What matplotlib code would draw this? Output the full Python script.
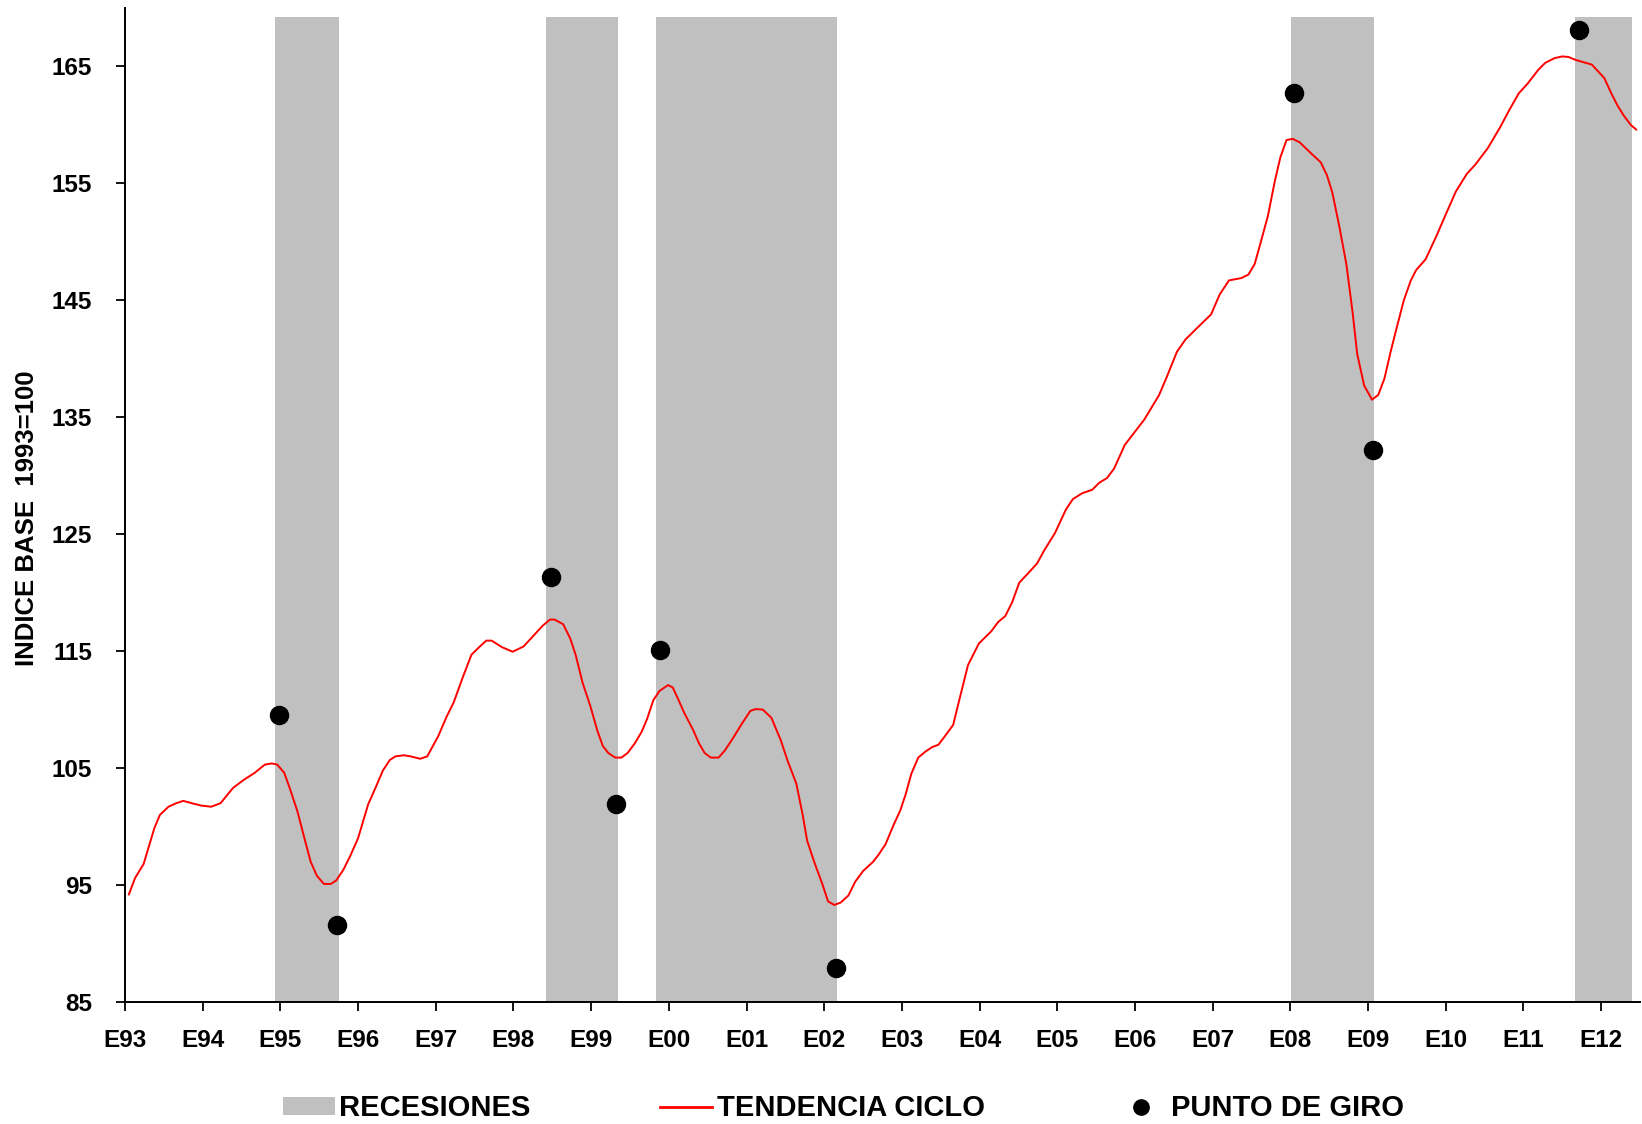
import numpy as np
import matplotlib
matplotlib.use("Agg")
import matplotlib.pyplot as plt
import matplotlib.patches as mpatches
from matplotlib.lines import Line2D

plt.rcParams['font.family'] = ['Liberation Sans', 'DejaVu Sans']
plt.rcParams['font.weight'] = 'bold'

# Tendencia ciclo (fractional year, index value)
trend_x = [1993.05, 1993.13, 1993.24, 1993.38, 1993.45, 1993.56, 1993.66, 1993.75, 1993.86, 1993.98,
           1994.11, 1994.23, 1994.39, 1994.53, 1994.67, 1994.80, 1994.89, 1994.96, 1995.05, 1995.12,
           1995.22, 1995.31, 1995.39, 1995.47, 1995.56, 1995.65, 1995.72, 1995.81, 1995.90, 1996.00,
           1996.13, 1996.23, 1996.32, 1996.41, 1996.48, 1996.59, 1996.68, 1996.80, 1996.89, 1997.03,
           1997.14, 1997.23, 1997.35, 1997.46, 1997.56, 1997.65, 1997.72, 1997.85, 1997.99, 1998.13,
           1998.22, 1998.38, 1998.47, 1998.53, 1998.64, 1998.73, 1998.80, 1998.89, 1998.99, 1999.08,
           1999.15, 1999.22, 1999.31, 1999.39, 1999.47, 1999.56, 1999.65, 1999.72, 1999.80, 1999.88,
           1999.99, 2000.05, 2000.12, 2000.20, 2000.31, 2000.39, 2000.46, 2000.54, 2000.64, 2000.72,
           2000.82, 2000.94, 2001.05, 2001.12, 2001.21, 2001.32, 2001.44, 2001.53, 2001.64, 2001.72,
           2001.78, 2001.87, 2001.97, 2002.05, 2002.13, 2002.21, 2002.31, 2002.40, 2002.50, 2002.63,
           2002.70, 2002.79, 2002.89, 2002.98, 2003.05, 2003.12, 2003.21, 2003.30, 2003.39, 2003.47,
           2003.55, 2003.66, 2003.73, 2003.85, 2003.99, 2004.15, 2004.24, 2004.33, 2004.42, 2004.51,
           2004.63, 2004.74, 2004.83, 2004.97, 2005.11, 2005.20, 2005.32, 2005.45, 2005.54, 2005.64,
           2005.73, 2005.87, 2006.12, 2006.31, 2006.40, 2006.54, 2006.65, 2006.81, 2006.98, 2007.09,
           2007.21, 2007.37, 2007.46, 2007.54, 2007.62, 2007.71, 2007.80, 2007.87, 2007.95, 2008.03,
           2008.12, 2008.26, 2008.39, 2008.47, 2008.54, 2008.63, 2008.72, 2008.80, 2008.86, 2008.95,
           2009.05, 2009.13, 2009.21, 2009.29, 2009.37, 2009.46, 2009.55, 2009.62, 2009.74, 2009.88,
           2010.01, 2010.13, 2010.27, 2010.38, 2010.54, 2010.70, 2010.82, 2010.94, 2011.05, 2011.19,
           2011.28, 2011.40, 2011.50, 2011.58, 2011.67, 2011.88, 2012.04, 2012.13, 2012.21, 2012.29,
           2012.38, 2012.45]
trend_y = [94.2, 95.6, 96.8, 99.9, 101.0, 101.7, 102.0, 102.2, 102.0, 101.8,
           101.7, 102.0, 103.3, 104.0, 104.6, 105.3, 105.4, 105.3, 104.6, 103.3,
           101.3, 99.0, 97.0, 95.8, 95.1, 95.1, 95.4, 96.3, 97.5, 99.0,
           101.9, 103.4, 104.8, 105.7, 106.0, 106.1, 106.0, 105.8, 106.0, 107.7,
           109.4, 110.6, 112.8, 114.7, 115.35, 115.9, 115.9, 115.35, 114.95, 115.4,
           116.05, 117.2, 117.7, 117.7, 117.3, 116.1, 114.7, 112.3, 110.3, 108.2,
           106.9, 106.3, 105.9, 105.9, 106.3, 107.1, 108.1, 109.2, 110.8, 111.6,
           112.1, 111.9, 110.9, 109.7, 108.3, 107.1, 106.3, 105.9, 105.9, 106.5,
           107.5, 108.8, 109.9, 110.05, 110.0, 109.3, 107.4, 105.6, 103.7, 101.1,
           98.8, 97.0, 95.2, 93.6, 93.3, 93.5, 94.1, 95.3, 96.2, 97.0,
           97.6, 98.5, 100.1, 101.4, 102.8, 104.5, 105.9, 106.4, 106.8, 107.0,
           107.7, 108.7, 110.6, 113.8, 115.65, 116.7, 117.5, 118.0, 119.2, 120.85,
           121.7, 122.5, 123.6, 125.1, 127.1, 128.0, 128.5, 128.8, 129.4, 129.8,
           130.6, 132.65, 134.8, 136.9, 138.3, 140.6, 141.65, 142.7, 143.8, 145.5,
           146.7, 146.9, 147.2, 148.1, 150.0, 152.2, 155.2, 157.2, 158.7, 158.8,
           158.5, 157.6, 156.8, 155.7, 154.2, 151.3, 148.1, 144.0, 140.4, 137.7,
           136.5, 136.9, 138.3, 140.6, 142.7, 145.0, 146.7, 147.6, 148.5, 150.5,
           152.5, 154.3, 155.8, 156.6, 158.0, 159.8, 161.3, 162.7, 163.5, 164.7,
           165.3, 165.7, 165.85, 165.8, 165.55, 165.15, 164.0, 162.7, 161.65, 160.8,
           160.0, 159.6]

# Puntos de giro
giro_x = [1994.98, 1995.73, 1998.48, 1999.32, 1999.89, 2002.15, 2008.04, 2009.06, 2011.72]
giro_y = [109.5, 91.6, 121.3, 101.9, 115.1, 87.9, 162.7, 132.2, 168.1]

# Recesiones (start, end)
rec_start = [1994.93, 1998.425, 1999.834, 2008.008, 2011.663]
rec_end = [1995.755, 1999.343, 2002.164, 2009.081, 2012.40]
rec_top = 169.2

years = list(range(1993, 2013))
year_labels = ['E%02d' % (y % 100) for y in years]

fig = plt.figure(figsize=(16.42, 11.24), dpi=100)
ax = fig.add_axes([0.0761, 0.1085, 0.9227, 0.8845])

ymin, ymax = 85, 170
for s, e in zip(rec_start, rec_end):
    ax.axvspan(s, e, ymin=0, ymax=(rec_top - ymin) / (ymax - ymin),
               color='#c0c0c0', lw=0, zorder=1)

ax.plot(trend_x, trend_y, color='red', lw=1.4, zorder=3)
ax.plot(giro_x, giro_y, 'o', color='black', markersize=13, zorder=4)

ax.set_xlim(1993, 2012.5)
ax.set_ylim(ymin, ymax)
ax.set_yticks(np.arange(85, 166, 10))
ax.set_xticks(years)
ax.set_xticklabels(year_labels)

for sp in ['top', 'right']:
    ax.spines[sp].set_visible(False)
for sp in ['left', 'bottom']:
    ax.spines[sp].set_linewidth(1.4)
ax.tick_params(axis='y', direction='out', length=6.7, width=1.3, pad=17, labelsize=17.5)
ax.tick_params(axis='x', direction='out', length=6.5, width=1.3, pad=13, labelsize=17.5)

ax.set_ylabel('INDICE BASE  1993=100', fontsize=18.5, fontweight='bold')
ax.yaxis.set_label_coords(-0.057, 0.487)

handles = [mpatches.Patch(color='#c0c0c0', lw=0),
           Line2D([], [], color='red', lw=2),
           Line2D([], [], color='black', marker='o', ls='none', markersize=11)]
labels = ['RECESIONES', 'TENDENCIA CICLO', 'PUNTO DE GIRO']
fig.legend(handles, labels, loc='center left', bbox_to_anchor=(283 / 1642, 0.0138), ncol=3,
           frameon=False, prop={'size': 21, 'weight': 'bold'}, handlelength=1.78,
           handletextpad=0.15, columnspacing=4.45, handleheight=0.54, borderpad=0,
           borderaxespad=0)

fig.savefig('out.png', dpi=100)
